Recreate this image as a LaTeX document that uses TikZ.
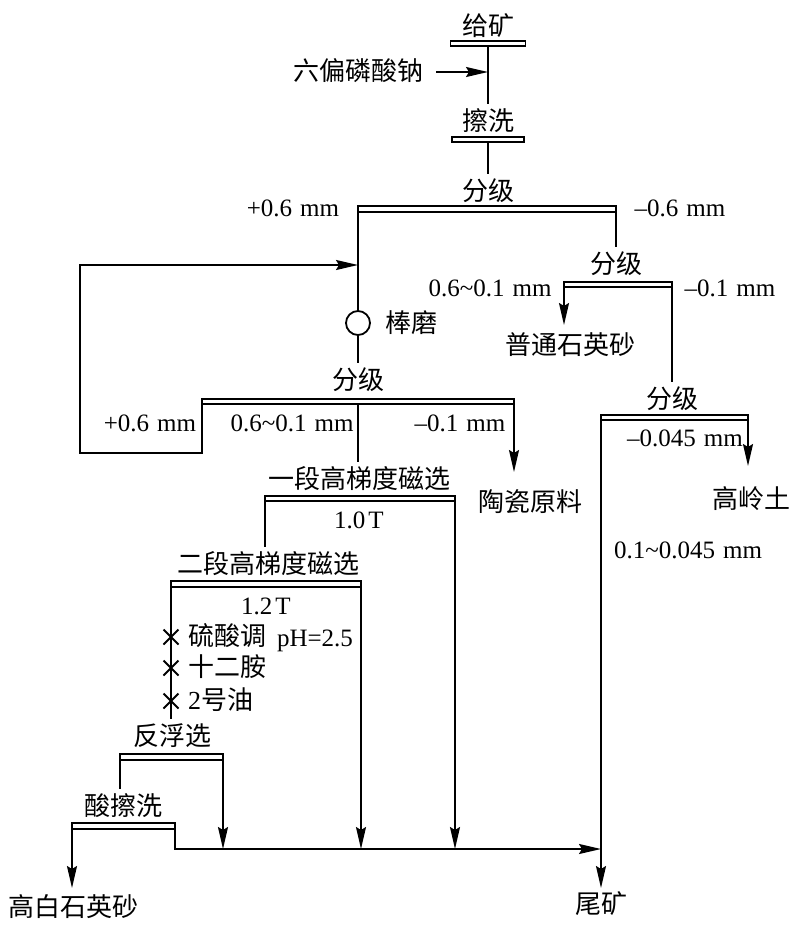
\documentclass[tikz,border=0pt]{standalone}
\usepackage{fontspec}
\setmainfont{Liberation Serif}
\newfontfamily\cjkf{Noto Sans CJK SC}
\usetikzlibrary{arrows.meta,shapes.misc}
\newcommand{\tld}{\textasciitilde}
\newcommand{\gap}{\hspace{0.32em}}
\newcommand{\tgap}{\hspace{0.12em}}
\tikzset{
  flow/.style={line width=1.8pt,line join=miter},
  arr/.style={flow,-{Stealth[length=22pt,width=10pt,inset=3pt]}},
  bar/.style={draw,line width=1.8pt,fill=white,minimum height=5.5pt,inner sep=0pt,outer sep=0pt},
  cn/.style={inner sep=0pt,outer sep=5pt,text height=21pt,text depth=5pt,font=\fontsize{26}{30}\selectfont\cjkf},
  num/.style={inner sep=0pt,font=\fontsize{25}{29}\selectfont},
  mill/.style={circle,draw,line width=1.8pt,minimum size=24pt,inner sep=0pt,outer sep=0pt},
  xmark/.style={cross out,draw,line width=1.8pt,minimum size=15pt,inner sep=0pt,outer sep=0pt}
}
\begin{document}
\begin{tikzpicture}[x=1pt,y=-1pt]
\useasboundingbox (0,0) rectangle (802,932);
% bars
\node[bar,minimum width=75pt]  (b1) at (488,43.5) {};
\node[bar,minimum width=72pt]  (b2) at (488,139.5) {};
\node[bar,minimum width=258pt] (b3) at (487,209) {};
\node[bar,minimum width=108pt] (b4) at (618,284.5) {};
\node[bar,minimum width=312pt] (b5) at (358,401.5) {};
\node[bar,minimum width=147pt] (b6) at (674.5,417.5) {};
\node[bar,minimum width=190pt] (b7) at (360,498.5) {};
\node[bar,minimum width=190pt] (b8) at (266,584) {};
\node[bar,minimum width=103pt] (b9) at (171.5,757) {};
\node[bar,minimum width=103pt] (b10) at (123.5,826) {};
% texts
\node[cn] (feed) at (488,27) {给矿};
\node[cn] (hex) at (358,72) {六偏磷酸钠};
\node[cn] (scrub) at (488,122) {擦洗};
\node[cn] (cl1) at (488,192) {分级};
\node[cn] (cl2) at (616,265) {分级};
\node[cn] (cl3) at (358,381) {分级};
\node[cn] (cl4) at (672,400) {分级};
\node[mill] (rod) at (358,323) {};
\node[cn,anchor=west] (rodt) at (380,324) {棒磨};
\node[cn] (quartz) at (570,346) {普通石英砂};
\node[cn] (ceramic) at (530,503) {陶瓷原料};
\node[cn] (kaolin) at (751,500) {高岭土};
\node[cn] (mag1) at (359,480) {一段高梯度磁选};
\node[cn] (mag2) at (268,565) {二段高梯度磁选};
\node[cn] (flot) at (172,737) {反浮选};
\node[cn] (acid) at (123,807) {酸擦洗};
\node[cn] (hw) at (74,908) {高白石英砂};
\node[cn] (tail) at (601,905) {尾矿};
\node[cn,anchor=west] (r1) at (183,637) {硫酸调};
\node[cn,anchor=west] (r2) at (183,668) {十二胺};
\node[cn,anchor=west] (r3) at (183,701) {{\rmfamily 2}号油};
\node[num] (ph) at (315,641) {pH=2.5};
\node[num] (p06) at (293,208) {+0.6\gap mm};
\node[num] (m06) at (680,208) {–0.6\gap mm};
\node[num] (s1) at (490,288) {0.6\tld0.1\gap mm};
\node[num] (m01) at (730,288) {–0.1\gap mm};
\node[num] (p06b) at (150,423) {+0.6\gap mm};
\node[num] (s2) at (292,423) {0.6\tld0.1\gap mm};
\node[num] (m01b) at (460,423) {–0.1\gap mm};
\node[num] (m045) at (685,438) {–0.045\gap mm};
\node[num] (s3) at (688,550) {0.1\tld0.045\gap mm};
\node[num] (t1) at (359,520) {1.0\tgap T};
\node[num] (t2) at (266,606) {1.2\tgap T};
% reagent marks
\node[xmark] (x1) at (171,637) {};
\node[xmark] (x2) at (171,668) {};
\node[xmark] (x3) at (171,701) {};
% junction coordinates
\coordinate (hexin) at (488,72);
\coordinate (hexout) at (436,72);
\coordinate (l1) at (202,453);
\coordinate (l2) at (80,453);
\coordinate (l3) at (80,265);
\coordinate (l4) at (358,265);
\coordinate (b5mid) at (358,404);
\coordinate (b7t) at (358,462);
\coordinate (q1) at (564,325);
\coordinate (cer) at (514,472);
\coordinate (kao) at (748,466);
\coordinate (tailtip) at (601,888);
\coordinate (c1) at (175,849);
\coordinate (c2) at (223,849);
\coordinate (c3) at (361,849);
\coordinate (c4) at (455,849);
\coordinate (c5) at (601,849);
\coordinate (hwt) at (72,888);
% connectors
\draw[flow] (b1.south) -- (b1.south |- scrub.north);
\draw[arr] (hexout) -- (hexin);
\draw[flow] (b2.south) -- (b2.south |- cl1.north);
\draw[flow] (b3.south west) -- (rod.north);
\draw[flow] (rod.south) -- (cl3.north);
\draw[flow] (b3.south east) -- (b3.south east |- cl2.north);
\draw[arr] (b4.south west) -- (q1);
\draw[flow] (b4.south east) -- (b4.south east |- cl4.north);
\draw[arr] (b6.south east) -- (kao);
\draw[arr] (b6.south west) -- (tailtip);
\draw[arr] (b5.south west) -- (l1) -- (l2) -- (l3) -- (l4);
\draw[flow] (b5mid) -- (b7t);
\draw[arr] (b5.south east) -- (cer);
\draw[flow] (b7.south west) -- (b7.south west |- mag2.north);
\draw[arr] (b7.south east) -- (c4);
\draw[arr] (b8.south east) -- (c3);
\draw[flow] (b8.south west) -- (b8.south west |- flot.north);
\draw[flow] (b9.south west) -- (b9.south west |- acid.north);
\draw[arr] (b9.south east) -- (c2);
\draw[arr] (b10.south west) -- (hwt);
\draw[arr] (b10.south east) -- (c1) -- (c5);
\end{tikzpicture}
\end{document}
